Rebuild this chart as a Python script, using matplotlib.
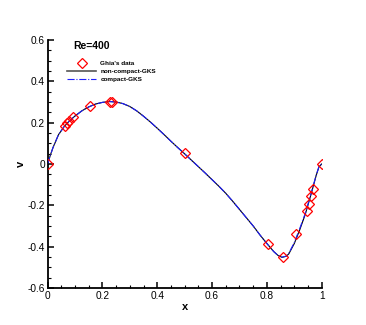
import matplotlib
matplotlib.use('Agg')
import matplotlib.pyplot as plt
from matplotlib.ticker import MultipleLocator
from matplotlib.lines import Line2D

plt.rcParams['font.family'] = ['Liberation Sans', 'DejaVu Sans']

# Ghia et al. v-velocity along horizontal centreline, Re=400
ghia_x = [1.0000, 0.9688, 0.9609, 0.9531, 0.9453, 0.9063, 0.8594, 0.8047,
          0.5000, 0.2344, 0.2266, 0.1563, 0.0938, 0.0781, 0.0703, 0.0625, 0.0000]
ghia_v = [0.00000, -0.12146, -0.15663, -0.19254, -0.22847, -0.33827, -0.44993,
          -0.38598, 0.05186, 0.30174, 0.30203, 0.28124, 0.22965, 0.20920,
          0.19713, 0.18360, 0.00000]

# GKS curves
curve_x = [0.0, 0.01, 0.02, 0.04, 0.06, 0.08, 0.1, 0.125, 0.15, 0.175, 0.2,
           0.225, 0.25, 0.275, 0.3, 0.325, 0.35, 0.375, 0.4, 0.425, 0.45,
           0.475, 0.5, 0.525, 0.55, 0.575, 0.6, 0.625, 0.65, 0.675, 0.7,
           0.725, 0.75, 0.775, 0.8, 0.825, 0.84, 0.855, 0.87, 0.88, 0.9,
           0.92, 0.94, 0.96, 0.98, 0.99, 1.0]
noncompact_v = [0.0, 0.042, 0.08, 0.142, 0.18, 0.209, 0.232, 0.257, 0.276,
                0.29, 0.298, 0.302, 0.3, 0.292, 0.278, 0.257, 0.231, 0.203,
                0.173, 0.142, 0.11, 0.079, 0.049, 0.018, -0.013, -0.044,
                -0.076, -0.108, -0.142, -0.18, -0.22, -0.26, -0.3, -0.344,
                -0.385, -0.424, -0.442, -0.452, -0.447, -0.435, -0.385,
                -0.318, -0.244, -0.152, -0.055, -0.014, 0.0]
compact_v = [0.0, 0.042, 0.08, 0.142, 0.18, 0.209, 0.232, 0.257, 0.276,
             0.29, 0.298, 0.302, 0.3, 0.292, 0.278, 0.257, 0.231, 0.203,
             0.173, 0.142, 0.11, 0.079, 0.049, 0.018, -0.013, -0.044,
             -0.076, -0.108, -0.142, -0.18, -0.22, -0.26, -0.3, -0.344,
             -0.385, -0.424, -0.442, -0.451, -0.446, -0.432, -0.38,
             -0.312, -0.239, -0.148, -0.053, -0.013, 0.0]

x_ticks = [0, 0.2, 0.4, 0.6, 0.8, 1]
x_tick_labels = ['0', '0.2', '0.4', '0.6', '0.8', '1']
y_ticks = [-0.6, -0.4, -0.2, 0, 0.2, 0.4, 0.6]
y_tick_labels = ['-0.6', '-0.4', '-0.2', '0', '0.2', '0.4', '0.6']

fig = plt.figure(figsize=(3.66, 3.25), dpi=100)
ax = fig.add_axes([0.130, 0.114, 0.749, 0.763])

ax.plot(curve_x, noncompact_v, color='black', lw=0.8, zorder=2)
ax.plot(curve_x, compact_v, color='#2020ff', lw=0.8, ls='-.', zorder=3)
ax.plot(ghia_x, ghia_v, ls='none', marker='D', ms=5.6, mfc='none',
        mec='red', mew=0.9, zorder=4)

ax.set_xlim(0, 1)
ax.set_ylim(-0.6, 0.6)
ax.spines['top'].set_visible(False)
ax.spines['right'].set_visible(False)
for s in ['left', 'bottom']:
    ax.spines[s].set_linewidth(1.3)
ax.set_xticks(x_ticks)
ax.set_xticklabels(x_tick_labels)
ax.set_yticks(y_ticks)
ax.set_yticklabels(y_tick_labels)
ax.xaxis.set_minor_locator(MultipleLocator(0.05))
ax.yaxis.set_minor_locator(MultipleLocator(0.05))
ax.tick_params(which='major', direction='in', length=4.5, width=1.1,
               labelsize=7.3, pad=2)
ax.tick_params(which='minor', direction='in', length=2.2, width=0.8)

ax.set_xlabel('x', fontsize=8, fontweight='bold', labelpad=1)
ax.set_ylabel('v', fontsize=8, fontweight='bold', labelpad=1)

ax.text(0.095, 0.572, 'Re=400', fontsize=7.5, fontweight='bold', va='center')

handles = [
    Line2D([], [], ls='none', marker='D', ms=5.6, mfc='none', mec='red', mew=0.9),
    Line2D([], [], color='#555555', lw=1.2),
    Line2D([], [], color='#2020ff', lw=0.8, ls='-.'),
]
ax.legend(handles, ["Ghia's data", 'non-compact-GKS', 'compact-GKS'],
          loc='upper left', bbox_to_anchor=(0.05, 0.94), frameon=False,
          prop={'size': 4.6, 'weight': 'bold'}, handlelength=4.6,
          handletextpad=0.6, labelspacing=0.4)

fig.savefig('out.png', dpi=100)
